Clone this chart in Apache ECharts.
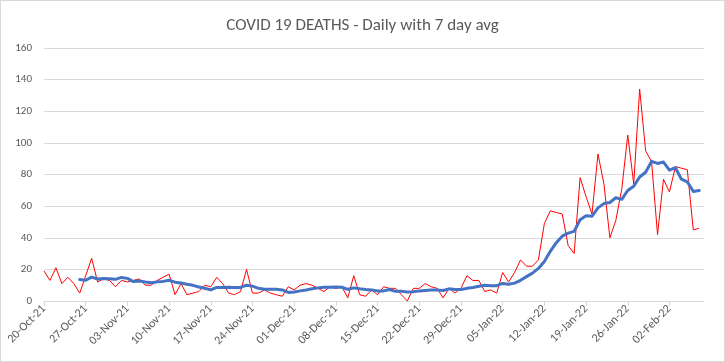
<!DOCTYPE html>
<html>
<head>
<meta charset="utf-8">
<script src="https://cdn.jsdelivr.net/npm/echarts@6/dist/echarts.min.js"></script>
<style>
html,body{margin:0;padding:0;background:#fff;}
#chart{width:725px;height:362px;box-sizing:border-box;border:1px solid #d9d9d9;}
</style>
</head>
<body>
<div id="chart"></div>
<script>
// One value per day from 20-Oct-21 to 07-Feb-22 (111 days); x = day index
const tickLabels = [
  '20-Oct-21','27-Oct-21','03-Nov-21','10-Nov-21','17-Nov-21','24-Nov-21',
  '01-Dec-21','08-Dec-21','15-Dec-21','22-Dec-21','29-Dec-21','05-Jan-22',
  '12-Jan-22','19-Jan-22','26-Jan-22','02-Feb-22'
];

const dailyDeaths = [
  19,13,21,11,15,11,5,16,27,12,
  14,13,9,13,12,13,14,10,10,13,
  15,17,4,11,4,5,6,10,9,15,
  11,5,4,6,20,5,5,7,5,4,
  3,9,7,10,11,10,8,6,9,8,
  9,2,16,4,3,7,4,9,8,8,
  4,0,8,8,11,9,8,2,8,5,
  8,16,13,13,6,7,5,18,12,18,
  26,22,22,26,49,57,56,55,35,30,
  78,66,55,93,74,40,51,71,105,74,
  134,95,88,42,77,69,85,84,83,45,
  46
];

const sevenDayAvg = [
  null,null,null,null,null,null,13.6,13.1,15.1,13.9,
  14.3,14.0,13.7,14.9,14.3,12.3,12.6,12.0,11.6,12.1,
  12.4,13.1,11.9,11.4,10.6,9.9,8.9,8.1,7.0,8.6,
  8.6,8.7,8.6,8.6,10.0,9.4,8.0,7.4,7.4,7.4,
  7.0,5.4,5.7,6.4,7.0,7.7,8.3,8.7,8.7,8.9,
  8.7,7.4,8.3,7.7,7.3,7.0,6.4,6.4,7.3,6.1,
  6.1,5.7,5.9,6.4,6.7,6.9,6.9,6.6,7.7,7.3,
  7.3,8.0,8.6,9.3,9.9,9.7,9.7,11.1,10.6,11.3,
  13.1,15.4,17.6,20.6,25.0,31.4,36.9,41.0,42.9,44.0,
  51.4,53.9,53.6,58.9,61.6,62.3,65.3,64.3,69.9,72.6,
  78.4,81.4,88.3,87.0,87.9,82.7,84.3,77.1,75.4,69.3,
  69.9
];

const yTicks = [0,20,40,60,80,100,120,140,160];

const chart = echarts.init(document.getElementById('chart'), null, {renderer:'canvas'});
const txt = '#595959';
const font = 'Calibri, Carlito, "Open Sans", "Liberation Sans", sans-serif';
chart.setOption({
  animation: false,
  title: {
    text: 'COVID 19 DEATHS - Daily with 7 day avg',
    left: 'center', top: 11,
    textStyle: {color: txt, fontSize: 17, fontWeight: 'normal', fontFamily: font}
  },
  grid: {left: 43, right: 20, top: 47, bottom: 60, containLabel: false},
  xAxis: {
    type: 'value', min: 0, max: 110.8, interval: 7,
    axisLine: {show: true, onZero: false, lineStyle: {color: '#d9d9d9', width: 1}},
    axisTick: {show: true, length: 5, lineStyle: {color: '#d9d9d9'}},
    splitLine: {show: false},
    axisLabel: {
      rotate: 45, color: txt, fontSize: 12, fontFamily: font, margin: 6,
      showMaxLabel: false,
      formatter: v => tickLabels[Math.round(v / 7)] || ''
    }
  },
  yAxis: {
    type: 'value', min: yTicks[0], max: yTicks[yTicks.length-1], interval: 20,
    axisLine: {show: false}, axisTick: {show: false},
    splitLine: {lineStyle: {color: '#d9d9d9', width: 1}},
    axisLabel: {color: txt, fontSize: 11, fontFamily: font, margin: 12}
  },
  series: [
    {
      type: 'line', name: 'Daily',
      data: dailyDeaths.map((v,i) => [i, v]),
      showSymbol: false, symbol: 'none',
      lineStyle: {color: '#ff0000', width: 1},
      z: 2
    },
    {
      type: 'line', name: '7 day avg',
      data: sevenDayAvg.map((v,i) => [i, v]),
      showSymbol: false, symbol: 'none', connectNulls: false,
      lineStyle: {color: '#4472c4', width: 3, cap: 'round', join: 'round'},
      z: 3
    }
  ]
});
</script>
</body>
</html>
